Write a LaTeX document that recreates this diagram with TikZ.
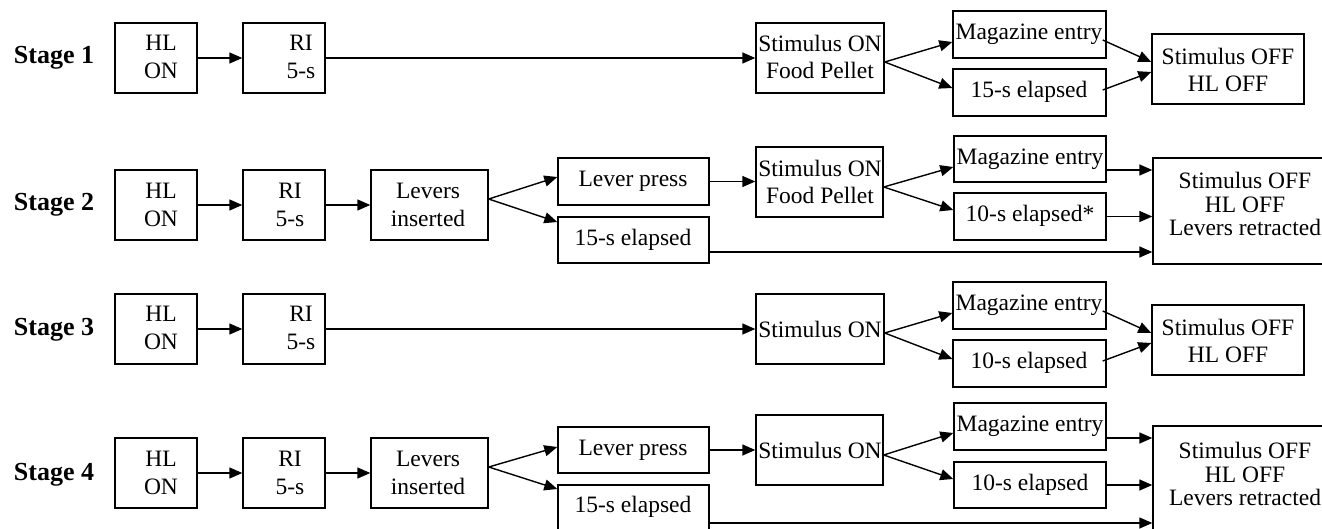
\documentclass[tikz,border=0pt]{standalone}
\usepackage{fontspec}
\setmainfont{Liberation Serif}
\usetikzlibrary{arrows.meta}
\begin{document}
\begin{tikzpicture}[x=1pt,y=-1pt,
  box/.style={draw=black,line width=1.4pt,fill=white,inner sep=0pt},
  txt/.style={inner sep=0pt,align=center,font=\fontsize{23.5}{27.5}\selectfont},
  txtb/.style={inner sep=0pt,align=center,font=\fontsize{23.5}{23.5}\selectfont},
  stagelbl/.style={inner sep=0pt,font=\fontsize{26}{30}\selectfont\bfseries},
  conn/.style={line width=1.4pt,-{Triangle[length=13pt,width=11pt]}},
  plain/.style={line width=1.4pt}]
\useasboundingbox (0,0) rectangle (1322,529);
\fill[white] (0,0) rectangle (1322,529);
\clip (0,0) rectangle (1322,529);

% ---------- Stage labels
\node[stagelbl] (st1) at (54,58) {Stage 1};
\node[stagelbl] (st2) at (54,205) {Stage 2};
\node[stagelbl] (st3) at (54,330) {Stage 3};
\node[stagelbl] (st4) at (54,475) {Stage 4};

% ---------- Row 1
\node[box,minimum width=82,minimum height=70] (h1) at (156,58) {};
\node[txt] (h1t) at (161,57) {HL\\ON};
\node[box,minimum width=82,minimum height=70] (r1) at (284,58) {};
\node[txt] (r1t) at (301,57) {RI\\5-s};
\node[box,minimum width=128,minimum height=70] (s1) at (820,58) {};
\node[txt] (s1t) at (820,57) {Stimulus ON\\Food Pellet};
\node[box,minimum width=153,minimum height=47] (m1) at (1029.5,34.5) {};
\node[txt] (m1t) at (1029,34) {Magazine entry};
\node[box,minimum width=153,minimum height=47] (e1) at (1029.5,92.5) {};
\node[txt] (e1t) at (1029,92) {15-s elapsed};
\node[box,minimum width=152,minimum height=70] (o1) at (1228,69) {};
\node[txt] (o1t) at (1228,70) {Stimulus OFF\\HL OFF};

\draw[conn] (h1.east) -- (r1.west);
\draw[conn] (r1.east) -- (s1.west);
\draw[conn] ([yshift=-4pt]s1.east) -- ([yshift=-7.5pt]m1.west);
\draw[conn] ([yshift=-4pt]s1.east) -- ([yshift=4.5pt]e1.west);
\draw[conn] ([xshift=-4pt,yshift=-5.5pt]m1.east) -- ([yshift=7pt]o1.west);
\draw[conn] ([xshift=-4pt,yshift=2.5pt]e1.east) -- ([yshift=-3pt]o1.west);

% ---------- Row 2
\node[box,minimum width=82,minimum height=70] (h2) at (156,205) {};
\node[txt] (h2t) at (161,205) {HL\\ON};
\node[box,minimum width=82,minimum height=70] (r2) at (284,205) {};
\node[txt] (r2t) at (290,205) {RI\\5-s};
\node[box,minimum width=117,minimum height=70] (l2) at (429.5,205) {};
\node[txt] (l2t) at (428,205) {Levers\\inserted};
\node[box,minimum width=151,minimum height=47] (p2) at (633.5,181.5) {};
\node[txt] (p2t) at (633,181) {Lever press};
\node[box,minimum width=151,minimum height=46] (f2) at (633.5,240) {};
\node[txt] (f2t) at (633,240) {15-s elapsed};
\node[box,minimum width=127,minimum height=70] (s2) at (819.5,182) {};
\node[txt] (s2t) at (820,182) {Stimulus ON\\Food Pellet};
\node[box,minimum width=152,minimum height=46] (m2) at (1030,159) {};
\node[txt] (m2t) at (1030,159) {Magazine entry};
\node[box,minimum width=152,minimum height=47] (t2) at (1030,216.5) {};
\node[txt] (t2t) at (1030,216) {10-s elapsed*};
\node[box,minimum width=183,minimum height=106] (o2) at (1244.5,211) {};
\node[txtb] (o2t) at (1245,204) {Stimulus OFF\\HL OFF\\Levers retracted};

\draw[conn] (h2.east) -- (r2.west);
\draw[conn] (r2.east) -- (l2.west);
\draw[conn] ([yshift=6pt]l2.east) -- ([yshift=4.5pt]p2.west);
\draw[conn] ([yshift=6pt]l2.east) -- ([yshift=18pt]f2.west);
\draw[conn] (p2.east) -- (p2.east -| s2.west);
\draw[conn] ([yshift=-5pt]s2.east) -- ([yshift=-8pt]m2.west);
\draw[conn] ([yshift=-5pt]s2.east) -- ([yshift=6.5pt]t2.west);
\draw[conn] ([yshift=-11pt]m2.east) -- ([yshift=-11pt]m2.east -| o2.west);
\draw[conn] (t2.east) -- (t2.east -| o2.west);
\draw[conn] ([yshift=-12pt]f2.east) -- ([yshift=-12pt]f2.east -| o2.west);

% ---------- Row 3
\node[box,minimum width=82,minimum height=70] (h3) at (156,329) {};
\node[txt] (h3t) at (161,328) {HL\\ON};
\node[box,minimum width=82,minimum height=70] (r3) at (284,329) {};
\node[txt] (r3t) at (301,328) {RI\\5-s};
\node[box,minimum width=128,minimum height=70] (s3) at (820,329) {};
\node[txt] (s3t) at (820,329) {Stimulus ON};
\node[box,minimum width=153,minimum height=47] (m3) at (1029.5,305.5) {};
\node[txt] (m3t) at (1029,305) {Magazine entry};
\node[box,minimum width=153,minimum height=47] (e3) at (1029.5,363.5) {};
\node[txt] (e3t) at (1029,363) {10-s elapsed};
\node[box,minimum width=152,minimum height=70] (o3) at (1228,340) {};
\node[txt] (o3t) at (1228,341) {Stimulus OFF\\HL OFF};

\draw[conn] (h3.east) -- (r3.west);
\draw[conn] (r3.east) -- (s3.west);
\draw[conn] ([yshift=-4pt]s3.east) -- ([yshift=-7.5pt]m3.west);
\draw[conn] ([yshift=-4pt]s3.east) -- ([yshift=4.5pt]e3.west);
\draw[conn] ([xshift=-4pt,yshift=-5.5pt]m3.east) -- ([yshift=7pt]o3.west);
\draw[conn] ([xshift=-4pt,yshift=2.5pt]e3.east) -- ([yshift=-3pt]o3.west);

% ---------- Row 4
\node[box,minimum width=82,minimum height=70] (h4) at (156,473) {};
\node[txt] (h4t) at (161,473) {HL\\ON};
\node[box,minimum width=82,minimum height=70] (r4) at (284,473) {};
\node[txt] (r4t) at (290,473) {RI\\5-s};
\node[box,minimum width=117,minimum height=70] (l4) at (429.5,473) {};
\node[txt] (l4t) at (428,473) {Levers\\inserted};
\node[box,minimum width=151,minimum height=46] (p4) at (633.5,450) {};
\node[txt] (p4t) at (633,450) {Lever press};
\node[box,minimum width=151,minimum height=47] (f4) at (633.5,508.5) {};
\node[txt] (f4t) at (633,507) {15-s elapsed};
\node[box,minimum width=127,minimum height=70] (s4) at (819.5,450) {};
\node[txt] (s4t) at (820,450) {Stimulus ON};
\node[box,minimum width=152,minimum height=47] (m4) at (1030,426.5) {};
\node[txt] (m4t) at (1030,426) {Magazine entry};
\node[box,minimum width=152,minimum height=46] (t4) at (1030,485) {};
\node[txt] (t4t) at (1030,485) {10-s elapsed};
\node[box,minimum width=183,minimum height=106] (o4) at (1244.5,479) {};
\node[txtb] (o4t) at (1245,474) {Stimulus OFF\\HL OFF\\Levers retracted};

\draw[conn] (h4.east) -- (r4.west);
\draw[conn] (r4.east) -- (l4.west);
\draw[conn] ([yshift=6pt]l4.east) -- ([yshift=3pt]p4.west);
\draw[conn] ([yshift=6pt]l4.east) -- ([yshift=19.5pt]f4.west);
\draw[conn] (p4.east) -- (p4.east -| s4.west);
\draw[conn] ([yshift=-5pt]s4.east) -- ([yshift=-6.5pt]m4.west);
\draw[conn] ([yshift=-5pt]s4.east) -- ([yshift=6pt]t4.west);
\draw[conn] ([yshift=-11.5pt]m4.east) -- ([yshift=-11.5pt]m4.east -| o4.west);
\draw[conn] (t4.east) -- (t4.east -| o4.west);
\draw[conn] ([yshift=-14.5pt]f4.east) -- ([yshift=-14.5pt]f4.east -| o4.west);
\end{tikzpicture}
\end{document}
